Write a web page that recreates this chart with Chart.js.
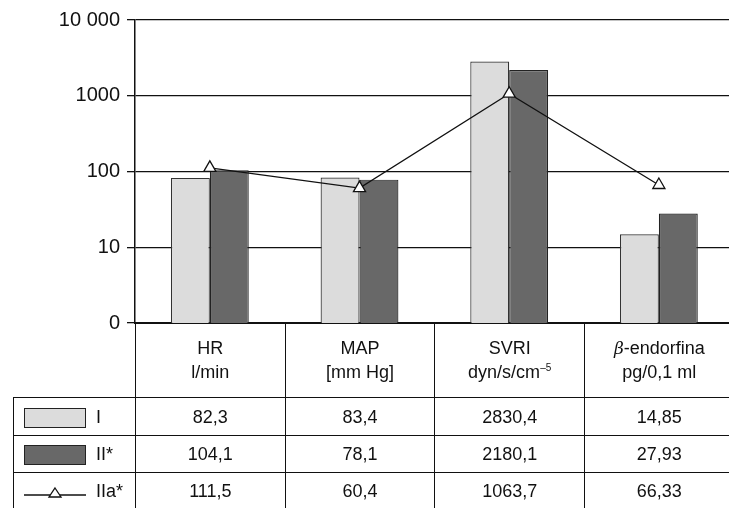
<!DOCTYPE html>
<html>
<head>
<meta charset="utf-8">
<script src="https://cdn.jsdelivr.net/npm/chart.js@4"></script>
<style>
  html, body { margin: 0; padding: 0; background: #fff; overflow: hidden; }
  #wrap { position: relative; width: 729px; height: 508px; overflow: hidden; }
  #chart { position: absolute; left: 0; top: 0; }
  #dataTable {
    position: absolute;
    border-collapse: collapse;
    table-layout: fixed;
    font-family: "Liberation Sans", Arial, sans-serif;
    font-size: 18px;
    color: #111;
  }
  #dataTable td {
    border: 1.5px solid #111;
    text-align: center;
    padding: 0;
    line-height: 24px;
  }
  #dataTable td.corner { border-left: none; border-top: none; }
  #dataTable tr.head td { border-top: none; height: 75px; }
  #dataTable td.key { text-align: left; white-space: nowrap; }
  .swatch { display: inline-block; width: 60px; height: 18px; border: 1.5px solid #222; vertical-align: middle; margin: 0 10px 0 10px; }
  .lineKey { display: inline-block; vertical-align: middle; margin: 0 10px 0 10px; }
  sup { font-size: 10px; vertical-align: 7px; line-height: 0; }
</style>
</head>
<body>
<div id="wrap">
  <canvas id="chart" width="742" height="350" style="width:742px;height:350px"></canvas>
  <table id="dataTable"></table>
</div>
<script>
// ---------- Data ----------
const catNames = ['HR', 'MAP', 'SVRI', 'β-endorfina'];
const catUnits = ['l/min', '[mm Hg]', 'dyn/s/cm⁻⁵', 'pg/0,1 ml'];

const seriesNames = ['I', 'II*', 'IIa*'];
const valuesI = [82.3, 83.4, 2830.4, 14.85];
const valuesII = [104.1, 78.1, 2180.1, 27.93];
const valuesIIa = [111.5, 60.4, 1063.7, 66.33];

const yTickValues = [1, 10, 100, 1000, 10000];
const yTickLabels = ['0', '10', '100', '1000', '10 000'];

const colorI = '#dcdcdc';
const colorII = '#686868';
const ink = '#111';

// ---------- Chart ----------
const ctx = document.getElementById('chart').getContext('2d');
const chart = new Chart(ctx, {
    type: 'bar',
    data: {
        labels: catNames,
        datasets: [
            {
                type: 'line',
                label: seriesNames[2],
                data: valuesIIa,
                borderColor: ink,
                borderWidth: 1.3,
                pointStyle: 'triangle',
                pointRadius: 7,
                pointBackgroundColor: '#fff',
                pointBorderColor: ink,
                pointBorderWidth: 1.3,
                tension: 0,
                order: 0
            },
            {
                label: seriesNames[0],
                data: valuesI,
                backgroundColor: colorI,
                borderColor: '#333',
                borderWidth: 1.2,
                categoryPercentage: 0.52,
                barPercentage: 1.0,
                order: 1
            },
            {
                label: seriesNames[1],
                data: valuesII,
                backgroundColor: colorII,
                borderColor: '#222',
                borderWidth: 1.2,
                categoryPercentage: 0.52,
                barPercentage: 1.0,
                order: 1
            }
        ]
    },
    options: {
        responsive: false,
        animation: false,
        layout: { padding: { top: 20, bottom: 27, left: 0, right: 3 } },
        plugins: { legend: { display: false }, tooltip: { enabled: false } },
        scales: {
            x: {
                offset: true,
                grid: { display: false, drawTicks: false },
                border: { display: true, color: ink, width: 2 },
                ticks: { display: false }
            },
            y: {
                type: 'logarithmic',
                min: 1,
                max: 10000,
                afterBuildTicks: (scale) => {
                    scale.ticks = yTickValues.map(v => ({ value: v }));
                },
                afterFit: (scale) => { scale.width = 135; },
                grid: { color: ink, lineWidth: 1.3, tickLength: 8, drawTicks: true },
                border: { display: true, color: ink, width: 1.5 },
                ticks: {
                    padding: 7,
                    color: ink,
                    font: { family: '"Liberation Sans", Arial, sans-serif', size: 20 },
                    callback: (value) => {
                        const i = yTickValues.indexOf(value);
                        return i >= 0 ? yTickLabels[i] : '';
                    }
                }
            }
        }
    }
});

// ---------- Data table under the chart ----------
function fmt(v) {
    return String(v).replace('.', ',');
}

function unitHtml(u) {
    return u.replace('⁻⁵', '<sup>–5</sup>');
}

function nameHtml(n) {
    return n.replace('β', '<i style="font-family:\'DejaVu Serif\',serif;font-size:17px">β</i>');
}

function keyHtml(i) {
    if (i < 2) {
        const bg = i === 0 ? colorI : colorII;
        return `<span class="swatch" style="background:${bg}"></span>${seriesNames[i]}`;
    }
    return `<svg class="lineKey" width="62" height="14"><line x1="0" y1="10" x2="62" y2="10" stroke="${ink}" stroke-width="1.3"/>` +
        `<polygon points="31,3 37,12 25,12" fill="#fff" stroke="${ink}" stroke-width="1.3"/></svg>${seriesNames[i]}`;
}

function buildTable() {
    const area = chart.chartArea;
    const catW = (area.right - area.left) / catNames.length;
    const left = 13;
    const table = document.getElementById('dataTable');
    table.style.left = left + 'px';
    table.style.top = (area.bottom - 1) + 'px';

    let html = '<colgroup><col style="width:' + (area.left - left) + 'px">';
    catNames.forEach(() => { html += '<col style="width:' + catW + 'px">'; });
    html += '</colgroup>';

    html += '<tr class="head"><td class="corner"></td>';
    catNames.forEach((n, i) => {
        html += `<td>${nameHtml(n)}<br>${unitHtml(catUnits[i])}</td>`;
    });
    html += '</tr>';

    const rows = [valuesI, valuesII, valuesIIa];
    const heights = [38, 37, 37];
    rows.forEach((vals, r) => {
        html += `<tr style="height:${heights[r]}px"><td class="key">${keyHtml(r)}</td>`;
        vals.forEach(v => { html += `<td>${fmt(v)}</td>`; });
        html += '</tr>';
    });
    table.style.width = (area.left - left + catW * catNames.length) + 'px';
    table.innerHTML = html;
}

buildTable();
</script>
</body>
</html>
